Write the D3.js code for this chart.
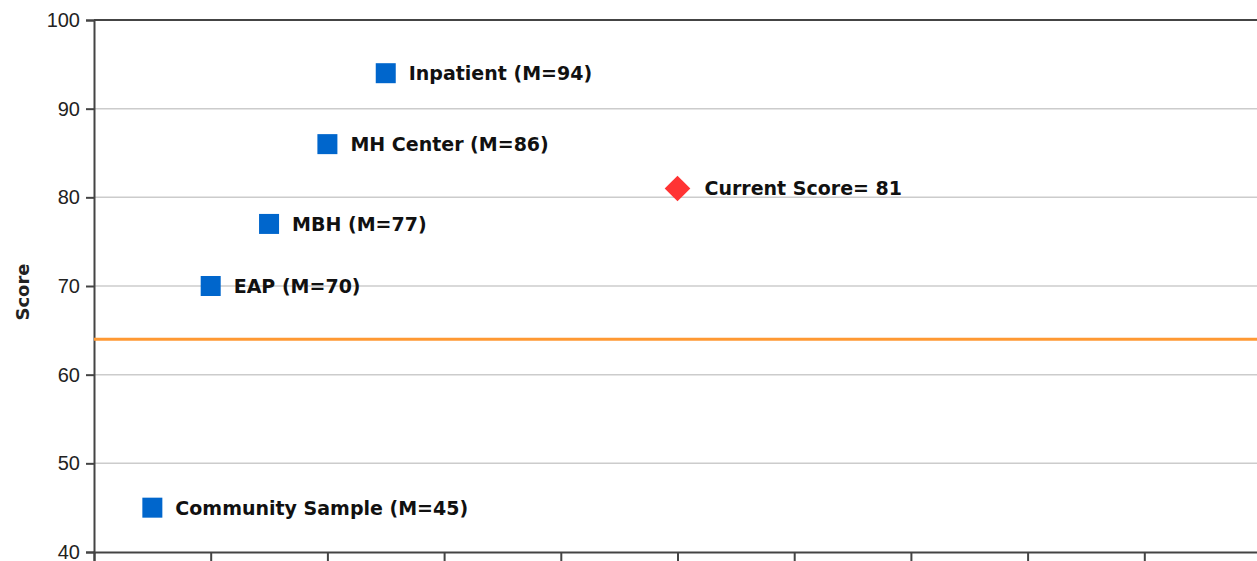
<html lang="en">
<head>
  <script src="https://d3js.org/d3.v7.min.js"></script>
  <style>
    body { margin: 0; background: white; }
    svg { display: block; font-family: "Liberation Sans", Arial, sans-serif; }
  </style>
</head>
<body>
  <svg id="chart" width="1257" height="561"></svg>
  <script>
    // groups and their means
    const groupNames = ["Community Sample", "EAP", "MBH", "MH Center", "Inpatient"];
    const groupX = [0.5, 1, 1.5, 2, 2.5];
    const groupMeans = [45, 70, 77, 86, 94];

    const currentX = 5;
    const currentScore = 81;
    const cutoff = 64;

    const yTicks = [40, 50, 60, 70, 80, 90, 100];
    const xTicks = [0, 1, 2, 3, 4, 5, 6, 7, 8, 9, 10];

    const svg = d3.select("#chart");
    const labelFont = "DejaVu Sans, Verdana, sans-serif";

    const x = d3.scaleLinear().domain([0, 10]).range([94, 1261]);
    const y = d3.scaleLinear().domain([40, 100]).range([552, 20]);

    // gridlines
    svg.append("g")
      .selectAll("line")
      .data(yTicks.filter(d => d > 40 && d < 100))
      .enter().append("line")
      .attr("x1", x(0)).attr("x2", 1257)
      .attr("y1", d => y(d)).attr("y2", d => y(d))
      .attr("stroke", "#cccccc")
      .attr("stroke-width", 1.5);

    // top border
    svg.append("line")
      .attr("x1", x(0)).attr("x2", 1257)
      .attr("y1", y(100)).attr("y2", y(100))
      .attr("stroke", "#444").attr("stroke-width", 2);

    // y axis
    const yAxis = svg.append("g")
      .attr("transform", "translate(" + x(0) + ",0)")
      .call(d3.axisLeft(y).tickValues(yTicks).tickSize(8).tickPadding(6));
    yAxis.select(".domain").attr("stroke", "#444").attr("stroke-width", 2);
    yAxis.selectAll(".tick line").attr("stroke", "#444").attr("stroke-width", 2);
    yAxis.selectAll("text").attr("font-size", 20).attr("fill", "#222")
      .attr("font-family", "Liberation Sans, Arial, sans-serif");

    // x axis
    const xAxis = svg.append("g")
      .attr("transform", "translate(0," + y(40) + ")")
      .call(d3.axisBottom(x).tickValues(xTicks).tickSize(10).tickFormat(""));
    xAxis.select(".domain").attr("stroke", "#444").attr("stroke-width", 2);
    xAxis.selectAll(".tick line").attr("stroke", "#444").attr("stroke-width", 2);

    // y title
    svg.append("text")
      .attr("transform", "translate(29," + ((y(40) + y(100)) / 2 + 6) + ") rotate(-90)")
      .attr("text-anchor", "middle")
      .attr("font-family", labelFont)
      .attr("font-size", 18)
      .attr("font-weight", "bold")
      .attr("fill", "#222")
      .text("Score");

    // cutoff line
    svg.append("line")
      .attr("x1", x(0)).attr("x2", 1257)
      .attr("y1", y(cutoff)).attr("y2", y(cutoff))
      .attr("stroke", "#ff9933").attr("stroke-width", 3);

    // group markers
    const groups = svg.append("g");
    groupNames.forEach((name, i) => {
      groups.append("rect")
        .attr("x", x(groupX[i]) - 10).attr("y", y(groupMeans[i]) - 10)
        .attr("width", 20).attr("height", 20)
        .attr("fill", "#0066cc");
      groups.append("text")
        .attr("x", x(groupX[i]) + 23).attr("y", y(groupMeans[i]))
        .attr("dy", "0.36em")
        .attr("font-family", labelFont)
        .attr("font-size", 19).attr("font-weight", "bold").attr("fill", "#111")
        .text(name + " (M=" + groupMeans[i] + ")");
    });

    // current score
    const cx = x(currentX), cy = y(currentScore);
    svg.append("path")
      .attr("d", d3.symbol().type(d3.symbolDiamond2).size(420)())
      .attr("transform", "translate(" + cx + "," + cy + ")")
      .attr("fill", "#ff3333");
    svg.append("text")
      .attr("x", cx + 27).attr("y", cy).attr("dy", "0.36em")
      .attr("font-family", labelFont)
      .attr("font-size", 19).attr("font-weight", "bold").attr("fill", "#111")
      .text("Current Score= " + currentScore);
  </script>
</body>
</html>
